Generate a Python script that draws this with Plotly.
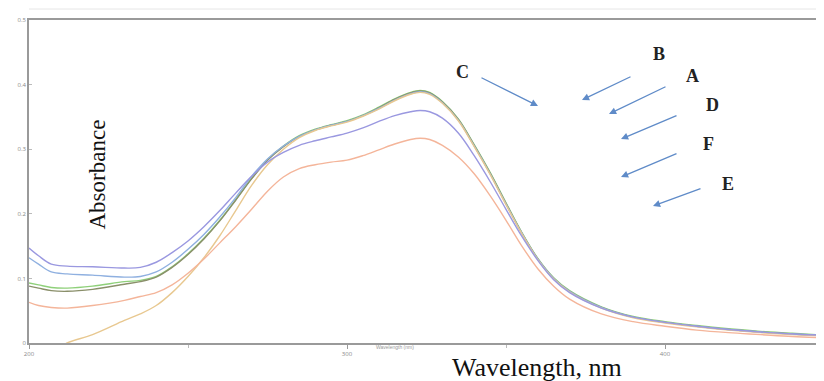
import plotly.graph_objects as go

wavelength = [200, 203, 207, 212, 220, 230, 235, 240, 245, 250, 255, 260, 265, 270, 275, 280,
              285, 290, 295, 300, 305, 310, 315, 320, 323, 326, 330, 335, 340, 345, 350, 355,
              360, 365, 370, 380, 390, 400, 410, 420, 430, 440, 450]

abs_A = [0.093, 0.090, 0.086, 0.085, 0.088, 0.095, 0.097, 0.103, 0.118, 0.138, 0.162, 0.190, 0.222, 0.255,
         0.284, 0.305, 0.321, 0.331, 0.338, 0.344, 0.353, 0.365, 0.378, 0.388, 0.391, 0.388, 0.374,
         0.347, 0.307, 0.264, 0.217, 0.171, 0.131, 0.101, 0.081, 0.056, 0.041, 0.033, 0.027, 0.022,
         0.018, 0.015, 0.012]
abs_B = [0.088, 0.085, 0.081, 0.080, 0.083, 0.091, 0.095, 0.102, 0.117, 0.137, 0.161, 0.189, 0.221, 0.254,
         0.283, 0.304, 0.320, 0.330, 0.337, 0.343, 0.352, 0.364, 0.377, 0.387, 0.390, 0.387, 0.373,
         0.346, 0.306, 0.263, 0.216, 0.170, 0.130, 0.100, 0.080, 0.055, 0.040, 0.032, 0.026, 0.021,
         0.017, 0.014, 0.011]
abs_C = [0.132, 0.122, 0.110, 0.107, 0.105, 0.102, 0.103, 0.110, 0.125, 0.145, 0.168, 0.195, 0.225, 0.258,
         0.285, 0.305, 0.320, 0.330, 0.337, 0.343, 0.352, 0.363, 0.376, 0.386, 0.389, 0.386, 0.372,
         0.345, 0.305, 0.262, 0.215, 0.170, 0.130, 0.100, 0.080, 0.055, 0.040, 0.032, 0.026, 0.021,
         0.017, 0.014, 0.012]
abs_D = [-0.040, -0.030, -0.015, 0.000, 0.013, 0.035, 0.045, 0.058, 0.078, 0.103, 0.132, 0.166, 0.205,
         0.244, 0.276, 0.300, 0.318, 0.329, 0.336, 0.342, 0.351, 0.362, 0.375, 0.385, 0.388, 0.385,
         0.371, 0.344, 0.304, 0.261, 0.214, 0.169, 0.129, 0.099, 0.079, 0.054, 0.039, 0.031, 0.025,
         0.020, 0.016, 0.013, 0.011]
abs_E = [0.063, 0.058, 0.055, 0.054, 0.058, 0.066, 0.072, 0.078, 0.090, 0.108, 0.130, 0.155, 0.180, 0.207,
         0.235, 0.257, 0.270, 0.276, 0.280, 0.283, 0.290, 0.299, 0.308, 0.315, 0.317, 0.315, 0.306,
         0.288, 0.262, 0.228, 0.190, 0.150, 0.115, 0.088, 0.068, 0.045, 0.033, 0.026, 0.020, 0.016,
         0.013, 0.010, 0.008]
abs_F = [0.147, 0.135, 0.122, 0.119, 0.118, 0.116, 0.117, 0.125, 0.140, 0.158, 0.180, 0.205, 0.232, 0.258,
         0.280, 0.295, 0.306, 0.313, 0.319, 0.325, 0.333, 0.343, 0.352, 0.358, 0.360, 0.358, 0.348,
         0.325, 0.290, 0.250, 0.207, 0.165, 0.128, 0.098, 0.078, 0.054, 0.040, 0.032, 0.026, 0.021,
         0.017, 0.014, 0.012]

series_names = ["A", "B", "C", "D", "E", "F"]
series_values = [abs_A, abs_B, abs_C, abs_D, abs_E, abs_F]
series_colors = ["#8fd07a", "#8a8f6a", "#8fb0e0", "#e8c890", "#f4b59a", "#9a98e0"]

y_ticks = [0, 0.1, 0.2, 0.3, 0.4, 0.5]
y_tick_labels = ["0", "0.1", "0.2", "0.3", "0.4", "0.5"]
x_ticks = [200, 300, 400]
x_tick_labels = ["200", "300", "400"]

fig = go.Figure()
for name, vals, col in zip(series_names, series_values, series_colors):
    fig.add_trace(go.Scatter(x=wavelength, y=vals, mode="lines", name=name,
                             line=dict(color=col, width=1.4, shape="spline"), showlegend=False))

# plot area in page pixels (page has an 8px body margin)
L, T, W, H = 29, 20, 795, 323
OFF = 8


def px(xp):
    return (xp - L) / W


def py(yp):
    return (T + H - yp) / H


labels = [("C", 462, 72), ("B", 659, 54), ("A", 692, 76), ("D", 712, 105), ("F", 708, 144), ("E", 728, 184)]
arrows = [((480, 77), (538, 106)), ((632, 76), (582, 100)), ((667, 86), (609, 114)),
          ((678, 115), (621, 139)), ((678, 153), (621, 177)), ((702, 188), (653, 206))]

annotations = []
for t, xp, yp in labels:
    annotations.append(dict(text="<b>" + t + "</b>", x=px(xp), y=py(yp), xref="paper", yref="paper",
                            showarrow=False,
                            font=dict(family="Liberation Serif", size=18, color="#222"),
                            xanchor="center", yanchor="middle"))
for (x0, y0), (x1, y1) in arrows:
    annotations.append(dict(text="", x=px(x1), y=py(y1), xref="paper", yref="paper",
                            ax=x0 - x1, ay=y0 - y1, showarrow=True, arrowhead=2, arrowsize=1.1,
                            arrowwidth=1.3, arrowcolor="#5f8bc8"))
annotations.append(dict(text="Absorbance", x=px(82), y=py(175), xref="paper", yref="paper",
                        showarrow=False, textangle=-90,
                        font=dict(family="Liberation Serif", size=23, color="#111")))
annotations.append(dict(text="Wavelength, nm", x=px(537), y=py(384), xref="paper", yref="paper",
                        showarrow=False, font=dict(family="Liberation Serif", size=26, color="#111")))
annotations.append(dict(text="Wavelength (nm)", x=px(395), y=py(352), xref="paper", yref="paper",
                        showarrow=False, font=dict(family="Arial", size=5, color="#999")))

FW, FH = 824 - OFF, 381 - OFF
fig.update_layout(
    width=FW, height=FH,
    margin=dict(l=L - OFF, r=FW - (L - OFF) - W, t=T - OFF, b=FH - (T - OFF) - H, autoexpand=False),
    paper_bgcolor="white", plot_bgcolor="white",
    annotations=annotations,
    xaxis=dict(range=[200, 450], tickvals=x_ticks, ticktext=x_tick_labels, showgrid=False,
               zeroline=False, showline=True, linecolor="#9a9a9a", linewidth=1.5, mirror=True,
               ticks="outside", ticklen=4, tickcolor="#9a9a9a", automargin=False,
               minor=dict(tickvals=[250, 350, 450], ticks="outside", ticklen=3, tickcolor="#bbb"),
               tickfont=dict(size=6, color="#888")),
    yaxis=dict(range=[0, 0.5], tickvals=y_ticks, ticktext=y_tick_labels, showgrid=False,
               zeroline=False, showline=True, linecolor="#9a9a9a", linewidth=1.5, automargin=False,
               ticks="inside", ticklen=3, tickcolor="#bbb",
               tickfont=dict(size=6, color="#888")),
)
fig.add_shape(type="line", xref="paper", yref="paper", x0=0, x1=1, y0=py(9), y1=py(9),
              line=dict(color="#e6e6e6", width=1))

fig.write_html("out.html")
